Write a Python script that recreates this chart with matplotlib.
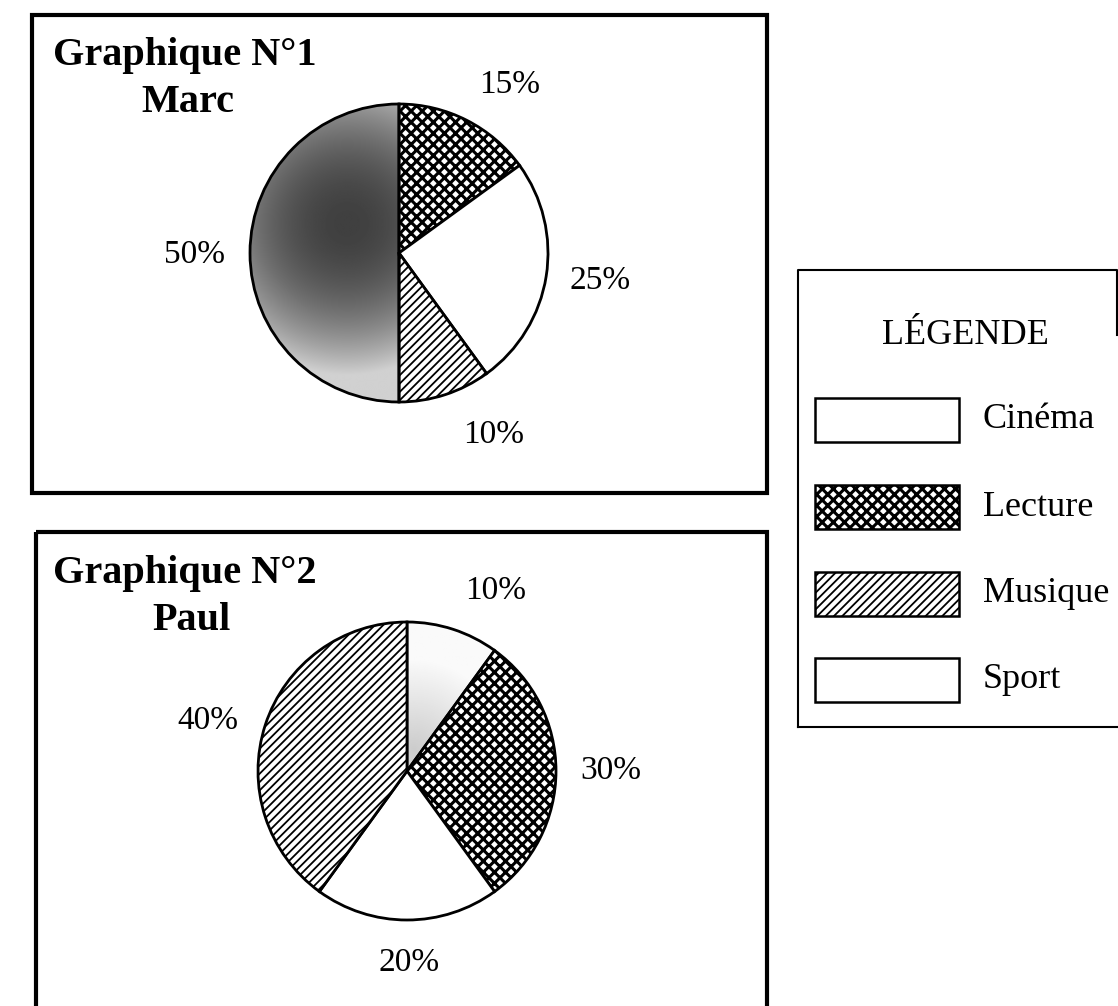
import numpy as np
import matplotlib
matplotlib.use("Agg")
import matplotlib.pyplot as plt
from matplotlib.patches import Rectangle

plt.rcParams['font.family'] = ['Liberation Serif', 'DejaVu Serif']
plt.rcParams['hatch.linewidth'] = 1.3

W, H = 1118, 1006

# categories and their fill style
categories = ["Cinéma", "Lecture", "Musique", "Sport"]
hatches = {"Cinéma": None, "Lecture": "xxx", "Musique": "////", "Sport": None}

# Graphique 1 : Marc (clockwise from 12 o'clock)
marc_order = ["Lecture", "Cinéma", "Musique", "Sport"]
marc_values = [15, 25, 10, 50]

# Graphique 2 : Paul
paul_order = ["Sport", "Lecture", "Cinéma", "Musique"]
paul_values = [10, 30, 20, 40]

fig = plt.figure(figsize=(W / 100, H / 100), dpi=100)
fig.patch.set_facecolor("white")

base = fig.add_axes([0, 0, 1, 1])
base.set_xlim(0, W)
base.set_ylim(H, 0)
base.axis("off")

# frames
base.add_patch(Rectangle((32, 15), 735, 478, fill=False, lw=3, ec="black"))
base.add_patch(Rectangle((36, 532), 731, 490, fill=False, lw=3, ec="black", clip_on=False))

# legend frame (right side mostly cut off in the scan)
base.plot([798, 798, 1117, 1117], [727, 270, 270, 335], color="black", lw=1.5)
base.plot([798, 1118], [727, 727], color="black", lw=1.5)


def gray_marc(x, y):
    g = 0.25 + 0.35 * ((y - 0.2) / 0.8) ** 2 + 0.3 * ((x + 0.35) / 0.75) ** 2
    return np.clip(g, 0, 0.82)


def gray_paul(x, y):
    d = np.sqrt((x - 0.05) ** 2 + (y - 0.15) ** 2)
    return np.clip(0.8 + 0.3 * d, 0, 0.98)


def draw_pie(cx, cy, r, order, values, shade):
    m = 1.04
    ax = fig.add_axes([(cx - r * m) / W, 1 - (cy + r * m) / H, 2 * r * m / W, 2 * r * m / H])
    wedges, _ = ax.pie(values, startangle=90, counterclock=False,
                       colors=["white"] * len(values),
                       wedgeprops=dict(edgecolor="black", linewidth=2.0))
    for w, name in zip(wedges, order):
        h = hatches[name]
        if h:
            w.set_hatch(h)
            if name == "Lecture" and hasattr(w, "set_hatch_linewidth"):
                w.set_hatch_linewidth(2.2)
        if name == "Sport":
            w.set_facecolor("none")
            gx, gy = np.meshgrid(np.linspace(-1, 1, 300), np.linspace(1, -1, 300))
            img = ax.imshow(shade(gx, gy), cmap="gray", vmin=0, vmax=1,
                            extent=(-1, 1, -1, 1), zorder=0.5, interpolation="bilinear")
            img.set_clip_path(w)
    ax.set_xlim(-m, m)
    ax.set_ylim(-m, m)
    ax.set_aspect("equal")
    ax.axis("off")
    return ax


draw_pie(399, 253, 149, marc_order, marc_values, gray_marc)
draw_pie(407, 771, 149, paul_order, paul_values, gray_paul)

# titles
title_kw = dict(fontsize=29, fontweight="bold", va="baseline")
base.text(53, 65, "Graphique N°1", ha="left", **title_kw)
base.text(188, 112, "Marc", ha="center", **title_kw)
base.text(53, 583, "Graphique N°2", ha="left", **title_kw)
base.text(192, 630, "Paul", ha="center", **title_kw)

# percentage labels
marc_labels = [(510, 85), (600, 281), (494, 435), (195, 255)]
paul_labels = [(496, 591), (611, 771), (409, 963), (208, 721)]
for (x, y), v in zip(marc_labels, marc_values):
    base.text(x, y, f"{v}%", fontsize=24, ha="center", va="center")
for (x, y), v in zip(paul_labels, paul_values):
    base.text(x, y, f"{v}%", fontsize=24, ha="center", va="center")

# legend
base.text(965, 335, "LÉGENDE", fontsize=26, ha="center", va="center")
box_tops = [398, 485, 572, 658]
for name, top in zip(categories, box_tops):
    p = base.add_patch(Rectangle((815, top), 144, 44, facecolor="white", edgecolor="black",
                                 lw=1.8, hatch=hatches[name]))
    if name == "Lecture" and hasattr(p, "set_hatch_linewidth"):
        p.set_hatch_linewidth(2.2)
    base.text(983, top + 22, name, fontsize=26, ha="left", va="center")

fig.savefig("out.png", dpi=100, facecolor="white")
